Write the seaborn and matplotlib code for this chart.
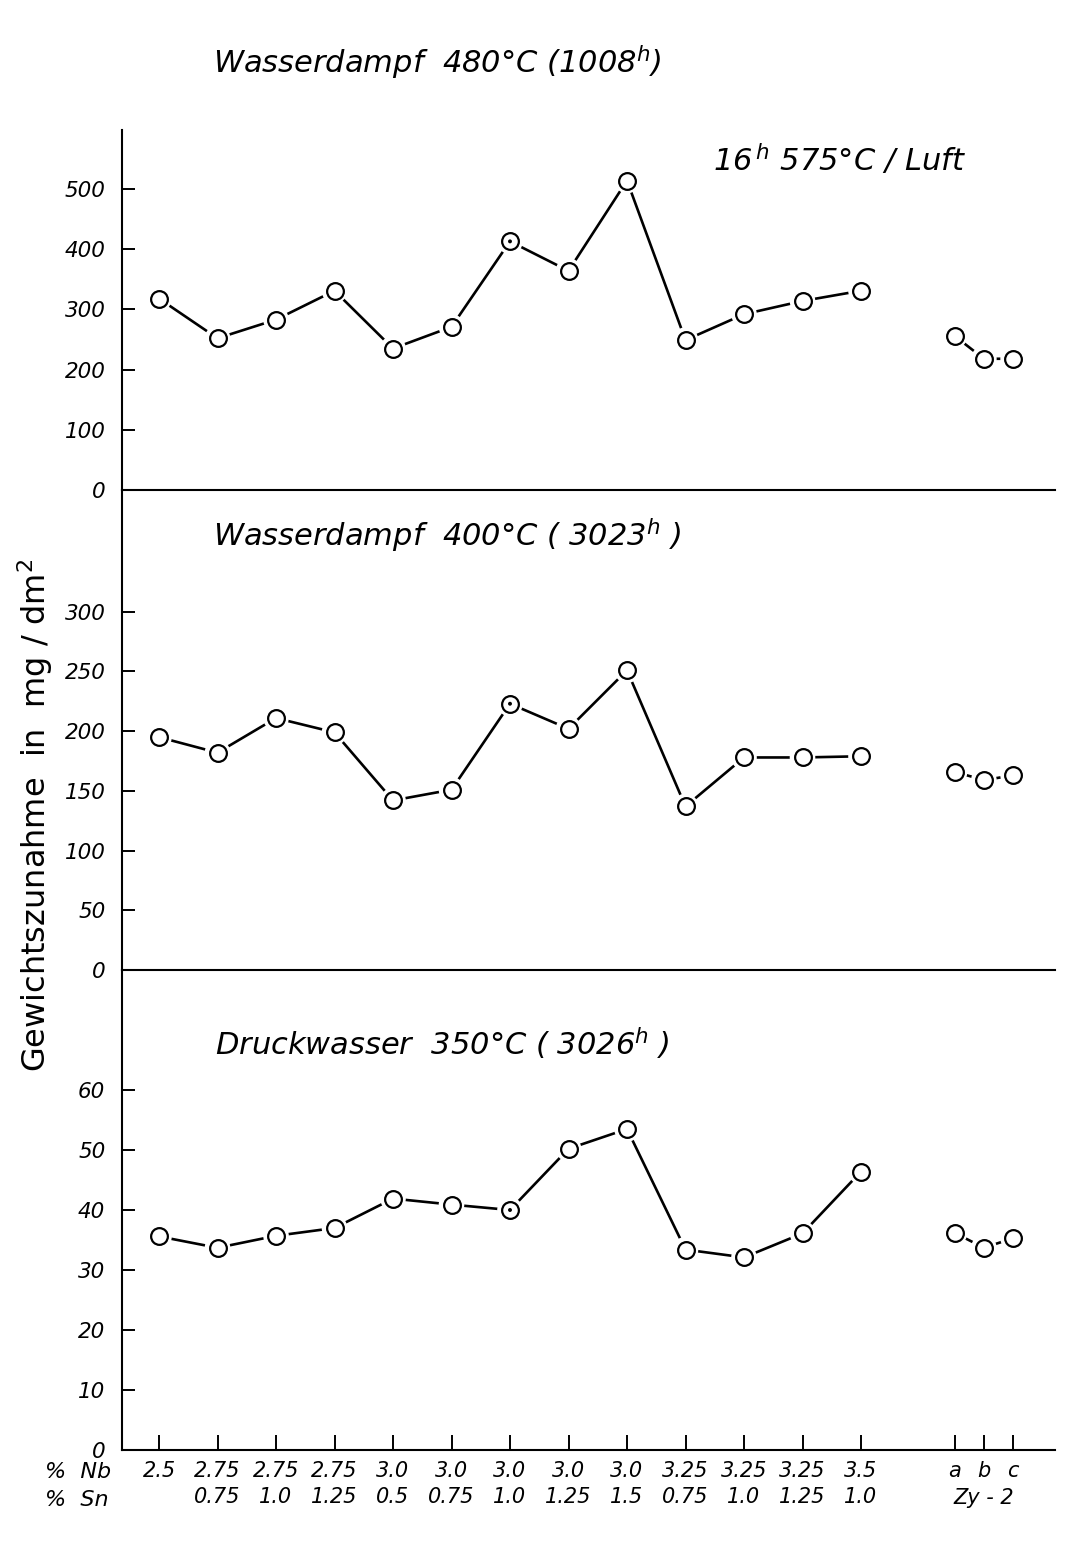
import numpy as np
import pandas as pd
import matplotlib
matplotlib.use("Agg")
import matplotlib.pyplot as plt
import matplotlib.transforms as mtransforms
import seaborn as sns

# Alloy compositions (wt.-%) along the x axis
nb_pct = ["2.5", "2.75", "2.75", "2.75", "3.0", "3.0", "3.0", "3.0", "3.0",
          "3.25", "3.25", "3.25", "3.5"]
sn_pct = ["", "0.75", "1.0", "1.25", "0.5", "0.75", "1.0", "1.25", "1.5",
          "0.75", "1.0", "1.25", "1.0"]
zy_samples = ["a", "b", "c"]
zy_name = "Zy - 2"

# Weight gain in mg/dm^2
steam_480 = [318, 252, 283, 331, 235, 271, 413, 364, 514, 249, 292, 314, 331]
steam_480_zy = [256, 218, 218]
steam_400 = [195, 182, 211, 199, 142, 151, 223, 202, 251, 137, 178, 178, 179]
steam_400_zy = [166, 159, 163]
water_350 = [35.6, 33.7, 35.7, 37.0, 41.9, 40.9, 40.0, 50.2, 53.5, 33.4, 32.1, 36.1, 46.4]
water_350_zy = [36.2, 33.7, 35.3]

# sample 3.0 Nb / 1.0 Sn is drawn with a centre dot
dotted_sample = 6

sns.set_theme(style="white")
plt.rcParams.update({
    "font.family": ["DejaVu Sans"],
    "axes.edgecolor": "black",
    "axes.linewidth": 1.5,
    "xtick.color": "black",
    "ytick.color": "black",
    "text.color": "black",
    "axes.facecolor": "white",
    "figure.facecolor": "white",
})

W, H = 1076, 1559
fig = plt.figure(figsize=(W / 100, H / 100), dpi=100)


def fy(px):
    return 1 - px / H


left, right = 122 / W, 1055 / W
ax_top = fig.add_axes([left, fy(490), right - left, fy(130) - fy(490)])
ax_mid = fig.add_axes([left, fy(970), right - left, fy(490) - fy(970)], sharex=ax_top)
ax_bot = fig.add_axes([left, fy(1450), right - left, fy(970) - fy(1450)], sharex=ax_top)

main_pos = np.arange(len(nb_pct))
zy_pos = np.array([13.6, 14.1, 14.6])


def draw_series(ax, values, zy_values):
    main = pd.DataFrame({"pos": main_pos, "gain": values})
    zy = pd.DataFrame({"pos": zy_pos, "gain": zy_values})
    for df in (main, zy):
        sns.lineplot(data=df, x="pos", y="gain", ax=ax, color="black",
                     lw=1.9, zorder=2, sort=False)
        # white halo leaves a small gap between line and circle
        sns.scatterplot(data=df, x="pos", y="gain", ax=ax, s=340,
                        color="white", edgecolor="none", zorder=3)
        sns.scatterplot(data=df, x="pos", y="gain", ax=ax, s=145,
                        color="white", edgecolor="black", linewidth=1.6, zorder=4)
    dot = main.iloc[[dotted_sample]]
    sns.scatterplot(data=dot, x="pos", y="gain", ax=ax, s=8,
                    color="black", edgecolor="none", zorder=5)
    ax.set_xlabel("")
    ax.set_ylabel("")


draw_series(ax_top, steam_480, steam_480_zy)
draw_series(ax_mid, steam_400, steam_400_zy)
draw_series(ax_bot, water_350, water_350_zy)

ax_top.set_xlim((122 - 159) / 58.5, (1055 - 159) / 58.5)

panels = [
    (ax_top, (0, 598), [0, 100, 200, 300, 400, 500]),
    (ax_mid, (0, 402), [0, 50, 100, 150, 200, 250, 300]),
    (ax_bot, (0, 80), [0, 10, 20, 30, 40, 50, 60]),
]
for ax, lim, ticks in panels:
    ax.set_ylim(*lim)
    ax.set_yticks(ticks)
    ax.set_yticklabels([str(t) for t in ticks], fontstyle="italic", fontsize=15.5)
    ax.tick_params(axis="y", left=True, direction="in", length=9, width=1.4, pad=12)
    ax.spines["top"].set_visible(False)
    ax.spines["right"].set_visible(False)
    ax.set_facecolor("none")

for ax in (ax_top, ax_mid):
    ax.tick_params(axis="x", bottom=False, labelbottom=False)

tick_pos = list(main_pos) + list(zy_pos)
tick_lab = [f"{n}\n{s}" for n, s in zip(nb_pct, sn_pct)] + zy_samples
ax_bot.set_xticks(tick_pos)
ax_bot.set_xticklabels(tick_lab, fontstyle="italic", fontsize=15, linespacing=1.35)
ax_bot.tick_params(axis="x", bottom=True, labelbottom=True, direction="in",
                   length=11, width=1.4, pad=8)

# Zircaloy-2 name under the a/b/c references, in the Sn row
trans = mtransforms.blended_transform_factory(ax_bot.transData, fig.transFigure)
ax_bot.text(zy_pos[1], fy(1498), zy_name, transform=trans, fontsize=15,
            fontstyle="italic", ha="center", va="center")

# panel captions
cap = dict(fontsize=22, fontstyle="italic", ha="left", va="center")
fig.text(213 / W, fy(62), "Wasserdampf  480°C (1008$^{h}$)", **cap)
fig.text(713 / W, fy(160), "16$^{\\,h}$ 575°C / Luft", **cap)
fig.text(213 / W, fy(535), "Wasserdampf  400°C ( 3023$^{h}$ )", **cap)
fig.text(215 / W, fy(1043), "Druckwasser  350°C ( 3026$^{h}$ )", **cap)

# composition row labels
row = dict(fontsize=16, fontstyle="italic", ha="left", va="center")
fig.text(45 / W, fy(1472), "%  Nb", **row)
fig.text(45 / W, fy(1500), "%  Sn", **row)

fig.text(35 / W, fy(815), "Gewichtszunahme  in  mg / dm$^2$", rotation=90,
         fontsize=23, ha="center", va="center")

fig.savefig("out.png", dpi=100)
